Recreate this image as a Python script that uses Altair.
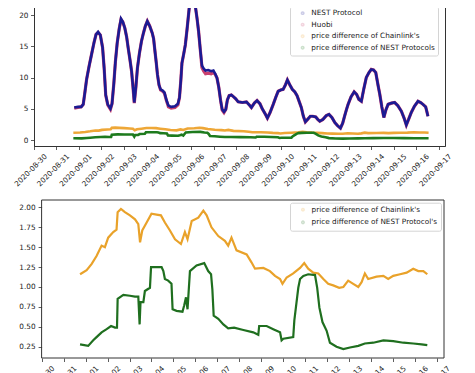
import altair as alt
import pandas as pd

BASE = pd.Timestamp("2020-08-30")

# ---- top panel series (days after 2020-08-30 00:00) ----
nest_days = [1.79, 1.95, 2.10, 2.19, 2.27, 2.34, 2.45, 2.56, 2.67, 2.76, 2.85, 2.95, 3.05, 3.12, 3.19,
             3.28, 3.40, 3.47, 3.55, 3.62, 3.70, 3.79, 3.87, 3.95, 4.04, 4.12, 4.19, 4.27, 4.34, 4.40,
             4.46, 4.53, 4.60, 4.69, 4.78, 4.86, 4.95, 5.04, 5.15, 5.26, 5.32, 5.38, 5.44, 5.49, 5.56,
             5.63, 5.72, 5.80, 5.89, 5.98, 6.10, 6.27, 6.40, 6.47, 6.53, 6.58, 6.66, 6.73, 6.81, 6.90,
             6.97, 7.03, 7.10, 7.18, 7.25, 7.32, 7.40, 7.47, 7.55, 7.63, 7.75, 7.88, 7.98, 8.06, 8.14,
             8.22, 8.30, 8.37, 8.45, 8.53, 8.60, 8.68, 8.78, 8.88, 8.97, 9.08, 9.27, 9.45, 9.58, 9.67,
             9.80, 9.92, 10.05, 10.15, 10.28, 10.38, 10.50, 10.64, 10.75, 10.86, 10.97, 11.08, 11.18, 11.27, 11.38,
             11.49, 11.60, 11.70, 11.80, 11.89, 11.98, 12.07, 12.17, 12.29, 12.40, 12.53, 12.62, 12.71, 12.85, 13.00,
             13.12, 13.25, 13.38, 13.50, 13.63, 13.73, 13.82, 13.90, 13.97, 14.10, 14.24, 14.35, 14.45, 14.56, 14.67,
             14.78, 14.90, 15.00, 15.10, 15.20, 15.30, 15.38, 15.47, 15.56, 15.65, 15.75, 15.90, 16.04, 16.18, 16.34,
             16.46, 16.56, 16.66, 16.78, 16.92, 17.08, 17.20, 17.30, 17.42, 17.47, 17.52]
nest_vals = [5.2, 5.3, 5.3, 5.7, 7.8, 9.7, 11.8, 13.7, 15.6, 16.9, 17.3, 16.8, 14.8, 11.5, 7.2,
             5.7, 5.0, 5.8, 9.0, 12.5, 15.5, 17.8, 19.4, 18.9, 17.9, 16.5, 14.7, 12.8, 11.0, 8.6,
             6.0, 8.4, 11.5, 13.9, 15.8, 17.0, 18.2, 19.0, 18.2, 17.1, 16.2, 14.2, 12.3, 10.5, 8.8,
             8.1, 7.9, 7.6, 6.4, 5.5, 5.3, 5.4, 5.8, 6.8, 9.5, 12.3, 13.8, 15.2, 17.8, 21.0,
             22.8, 23.0, 22.4, 21.3, 19.5, 17.4, 14.3, 11.9, 11.4, 11.1, 11.2, 11.0, 11.1, 10.6, 9.9,
             8.4, 6.3, 4.9, 4.5, 4.9, 6.4, 7.1, 7.2, 6.9, 6.6, 6.1, 6.0, 6.1, 5.6, 5.2,
             5.9, 6.3, 5.8, 5.0, 4.2, 3.5, 4.4, 5.7, 6.8, 7.8, 8.0, 8.1, 8.8, 9.6, 8.8,
             8.1, 7.7, 7.1, 6.1, 5.2, 3.8, 2.9, 3.3, 3.8, 3.8, 3.7, 3.3, 3.0, 3.3, 3.9,
             4.1, 3.6, 2.8, 2.3, 1.9, 2.7, 3.9, 4.9, 5.7, 6.9, 7.7, 7.3, 6.5, 6.2, 8.2,
             10.0, 10.8, 11.3, 11.2, 10.8, 8.8, 7.3, 5.3, 3.6, 4.8, 5.7, 5.9, 6.0, 5.5, 4.6,
             3.5, 2.4, 3.3, 4.4, 5.4, 6.2, 6.0, 5.7, 5.3, 4.6, 3.8]
huobi_vals = [5.1, 5.2, 5.3, 5.7, 7.8, 9.7, 11.8, 13.7, 15.6, 16.9, 17.2, 16.8, 14.8, 11.5, 7.2,
              5.6, 4.9, 5.8, 9.0, 12.5, 15.5, 17.8, 19.3, 18.9, 17.9, 16.5, 14.7, 12.8, 11.0, 8.6,
              5.9, 8.4, 11.5, 13.9, 15.8, 17.0, 18.2, 19.0, 18.2, 17.1, 16.2, 14.2, 12.3, 10.5, 8.8,
              8.0, 7.8, 7.5, 6.3, 5.3, 5.1, 5.2, 5.6, 6.8, 9.5, 12.3, 13.8, 15.2, 17.8, 21.0,
              22.8, 23.0, 22.4, 21.3, 19.5, 17.4, 14.3, 11.6, 11.0, 10.6, 10.7, 10.6, 10.8, 10.5, 9.9,
              8.4, 6.3, 4.8, 4.4, 4.9, 6.4, 7.1, 7.2, 6.9, 6.6, 6.1, 6.0, 6.1, 5.6, 5.2,
              5.9, 6.3, 5.8, 5.0, 4.2, 3.5, 4.4, 5.7, 6.8, 7.8, 8.0, 8.1, 8.8, 9.6, 8.8,
              8.1, 7.7, 7.1, 6.1, 5.2, 3.8, 2.9, 3.3, 3.8, 3.8, 3.7, 3.3, 3.0, 3.3, 3.9,
              4.1, 3.6, 2.8, 2.3, 1.9, 2.7, 3.9, 4.9, 5.7, 6.9, 7.7, 7.3, 6.5, 6.2, 8.2,
              10.0, 10.8, 11.3, 11.2, 10.8, 8.8, 7.3, 5.3, 3.6, 4.8, 5.7, 5.9, 6.0, 5.5, 4.6,
              3.5, 2.4, 3.3, 4.4, 5.4, 6.2, 6.0, 5.7, 5.3, 4.6, 3.8]

# ---- price differences (shared by both panels) ----
cl_days = [1.75, 2.05, 2.28, 2.50, 2.73, 2.88, 3.03, 3.26, 3.41, 3.46, 3.61, 3.79, 4.02, 4.25, 4.40,
           4.48, 4.58, 4.78, 5.00, 5.23, 5.43, 5.61, 5.84, 6.07, 6.34, 6.52, 6.64, 6.83, 7.13, 7.36,
           7.51, 7.73, 8.04, 8.34, 8.49, 8.64, 8.87, 9.33, 9.55, 9.71, 10.09, 10.39, 10.62, 10.85, 10.96,
           11.15, 11.45, 11.76, 11.95, 12.13, 12.36, 12.59, 12.82, 13.04, 13.27, 13.54, 13.73, 13.95, 14.18, 14.41,
           14.56, 14.71, 14.86, 15.24, 15.55, 15.77, 16.00, 16.31, 16.61, 16.91, 17.14, 17.37, 17.55]
cl_vals = [1.16, 1.21, 1.29, 1.39, 1.52, 1.50, 1.62, 1.69, 1.72, 1.94, 1.98, 1.94, 1.90, 1.85, 1.79,
           1.56, 1.71, 1.81, 1.92, 1.91, 1.90, 1.81, 1.71, 1.60, 1.54, 1.69, 1.60, 1.83, 1.87, 1.96,
           1.90, 1.75, 1.64, 1.58, 1.52, 1.62, 1.46, 1.41, 1.31, 1.23, 1.24, 1.20, 1.14, 1.10, 1.04,
           1.12, 1.17, 1.24, 1.30, 1.23, 1.18, 1.17, 1.10, 1.04, 1.02, 0.99, 1.00, 1.08, 1.04, 1.00,
           1.06, 1.17, 1.10, 1.13, 1.14, 1.10, 1.14, 1.16, 1.18, 1.23, 1.20, 1.20, 1.16]
np_days = [1.75, 2.12, 2.35, 2.50, 2.73, 2.96, 3.16, 3.34, 3.43, 3.46, 3.72, 4.02, 4.25, 4.40, 4.46,
           4.50, 4.63, 4.70, 4.93, 4.98, 5.16, 5.46, 5.54, 5.61, 5.76, 5.91, 5.96, 6.14, 6.41, 6.49,
           6.57, 6.64, 6.75, 7.05, 7.40, 7.58, 7.71, 7.77, 7.83, 8.04, 8.27, 8.49, 8.76, 9.18, 9.63,
           9.86, 9.90, 10.24, 10.54, 10.85, 10.92, 11.00, 11.45, 11.50, 11.57, 11.68, 11.76, 11.91, 12.13, 12.44,
           12.54, 12.64, 12.78, 12.97, 13.12, 13.42, 13.73, 14.03, 14.41, 14.71, 15.09, 15.55, 16.00, 16.46, 16.91,
           17.29, 17.55]
np_vals = [0.28, 0.26, 0.33, 0.37, 0.43, 0.47, 0.51, 0.49, 0.49, 0.85, 0.90, 0.89, 0.88, 0.88, 0.53,
           0.81, 0.81, 0.95, 0.99, 1.25, 1.25, 1.25, 1.20, 1.10, 1.08, 1.04, 0.72, 0.70, 0.69, 0.77,
           0.87, 0.72, 1.20, 1.27, 1.30, 1.20, 1.16, 0.97, 0.64, 0.60, 0.53, 0.48, 0.49, 0.46, 0.43,
           0.40, 0.51, 0.51, 0.47, 0.43, 0.33, 0.35, 0.37, 0.58, 0.74, 0.99, 1.10, 1.14, 1.16, 1.15,
           0.99, 0.74, 0.56, 0.45, 0.30, 0.25, 0.22, 0.24, 0.26, 0.29, 0.30, 0.33, 0.32, 0.30, 0.29,
           0.28, 0.27]

top_names = ["NEST Protocol", "Huobi", "price difference of Chainlink's",
             "price difference of NEST Protocols"]
top_colors = ["#1b1b94", "#c8406e", "#eea737", "#1d7a1d"]
bot_names = ["price difference of Chainlink's", "price difference of NEST Protocol's"]
bot_colors = ["#e9a22a", "#1f6f1f"]
top_yticks = [0, 5, 10, 15, 20]
bot_yticks = [0.25, 0.5, 0.75, 1.0, 1.25, 1.5, 1.75, 2.0]
tick_dates = [(8, d) for d in (30, 31)] + [(9, d) for d in range(1, 18)]


def frame(days, vals, name):
    ts = [(BASE + pd.Timedelta(days=d)).strftime("%Y-%m-%dT%H:%M:%S") for d in days]
    return pd.DataFrame({"t": ts, "v": vals, "series": name})


def dt(m, d, h=0, mi=0):
    return alt.DateTime(year=2020, month=m, date=d, hours=h, minutes=mi)


tick_values = [dt(m, d) for m, d in tick_dates]

FONT = "DejaVu Sans"
SPINE = "#333333"


def xaxis(domain=True):
    return alt.Axis(values=tick_values, format="%Y-%m-%d", labelAngle=315, labelAlign="right",
                    labelBaseline="middle", labelOffset=11.5, labelPadding=5.5, tickSize=3.5,
                    labelOverlap=False, labelFlush=False, grid=False, title=None, domain=domain)


def legend(y, pad, rowpad):
    return alt.Legend(title=None, orient="none", legendX=256, legendY=y, symbolType="circle",
                      symbolSize=6, symbolOpacity=0.22, symbolStrokeWidth=1.5, symbolOffset=6,
                      labelOffset=5, padding=pad, rowPadding=rowpad, labelFontSize=7.3,
                      fillColor="white", strokeColor="#d4d4d4", cornerRadius=2)


# ---------- top panel ----------
top_color = alt.Color("series:N", scale=alt.Scale(domain=top_names, range=top_colors),
                      legend=legend(11.5, 3, 2.5))
xtop = alt.X("t:T", scale=alt.Scale(domain=[dt(8, 30), dt(9, 17, 6, 43)]), axis=xaxis())
ytop = alt.Y("v:Q", scale=alt.Scale(domain=[-0.96, 23.2], nice=False, zero=False),
             axis=alt.Axis(values=top_yticks, tickSize=3.5, labelPadding=2.5, grid=False, title=None))


def top_line(df, width):
    return alt.Chart(df).mark_line(strokeWidth=width, clip=True).encode(x=xtop, y=ytop, color=top_color)


top = alt.layer(
    top_line(frame(nest_days, huobi_vals, "Huobi"), 3.2),
    top_line(frame(nest_days, nest_vals, "NEST Protocol"), 2.6),
    top_line(frame(cl_days, cl_vals, "price difference of Chainlink's"), 2.6),
    top_line(frame(np_days, np_vals, "price difference of NEST Protocols"), 2.6),
).properties(width=411, height=151, view=alt.ViewBackground(stroke=SPINE, strokeWidth=1))

# ---------- bottom panel ----------
# plot box starts 7.6 px to the right of the top panel's left spine
BOT_W, BOT_H, BOT_LEFT = 410, 158, 7.6
bot_color = alt.Color("series:N", scale=alt.Scale(domain=bot_names, range=bot_colors),
                      legend=legend(2.7, 3.3, 3.7))
xbot = alt.X("t:T", scale=alt.Scale(domain=[dt(8, 29, 15, 42), dt(9, 17, 7, 26)]), axis=xaxis(False))
ybot = alt.Y("v:Q", scale=alt.Scale(domain=[0.108, 2.093], nice=False, zero=False),
             axis=alt.Axis(values=bot_yticks, format=".2f", tickSize=3.5, labelPadding=3,
                           grid=False, title=None, domain=False, offset=-BOT_LEFT))


def bot_line(df, width):
    return alt.Chart(df).mark_line(strokeWidth=width, clip=True).encode(x=xbot, y=ybot, color=bot_color)


bot_frame = alt.Chart(pd.DataFrame({"k": [0]})).mark_rect(
    fill="white", fillOpacity=0, stroke=SPINE, strokeWidth=1
).encode(x=alt.value(BOT_LEFT), x2=alt.value(BOT_W), y=alt.value(0), y2=alt.value(BOT_H))

bottom = alt.layer(
    bot_frame,
    bot_line(frame(cl_days, cl_vals, "price difference of Chainlink's"), 2.2),
    bot_line(frame(np_days, np_vals, "price difference of NEST Protocol's"), 2.2),
).properties(width=BOT_W, height=BOT_H, view=alt.ViewBackground(strokeOpacity=0))

chart = (
    alt.vconcat(top, bottom, spacing=11)
    .resolve_scale(x="independent", y="independent", color="independent")
    .properties(padding={"left": 4, "top": -14, "right": 4, "bottom": 4})
    .configure_axis(labelFont=FONT, labelFontSize=7.3, labelColor="#222222", tickColor=SPINE,
                    domainColor=SPINE, tickWidth=0.8, domainWidth=0.8)
    .configure_legend(labelFont=FONT, labelColor="#222222")
)

chart.save("out.html", embed_options={"renderer": "svg", "actions": False})
